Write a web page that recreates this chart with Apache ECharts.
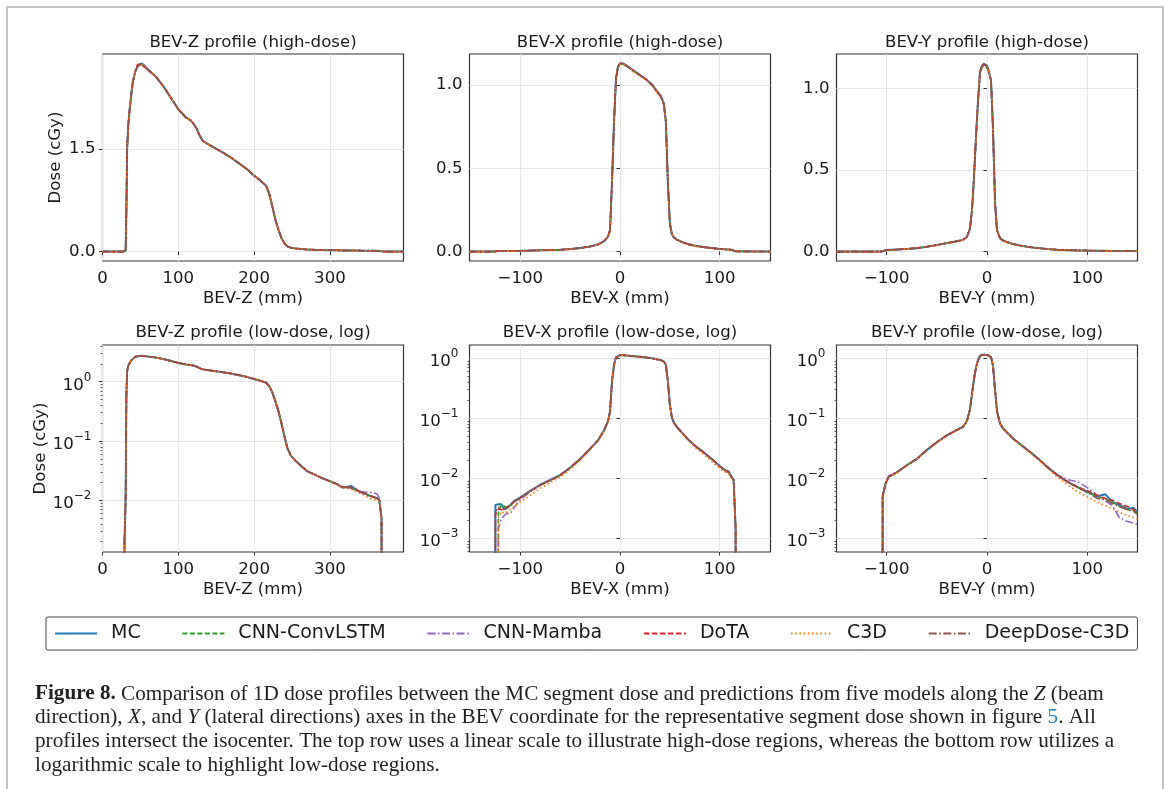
<!DOCTYPE html>
<html><head><meta charset="utf-8">
<script src="https://cdn.jsdelivr.net/npm/echarts@6/dist/echarts.min.js"></script>
<style>html,body{margin:0;padding:0;background:#fff}#c{width:1167px;height:789px}</style>
</head><body><div id="c"></div>
<script>
// ---------------- DATA ----------------
const seriesNames = ['MC', 'CNN-ConvLSTM', 'CNN-Mamba', 'DoTA', 'C3D', 'DeepDose-C3D'];

// BEV-Z profile (beam direction), mm
const zPos = [0, 27, 29, 30.5, 31.5, 32.5, 34, 36, 38, 40, 43, 46, 49, 52, 55, 60, 70, 80, 90, 100, 110, 116, 120, 124, 128, 132, 136, 144, 152, 160, 170, 180, 190, 200, 206, 212, 216, 220, 224, 228, 232, 236, 240, 244, 248, 254, 262, 270, 280, 290, 300, 310, 316, 322, 328, 334, 340, 346, 352, 358, 362, 365, 368, 371, 397];
const zMC =        [0, 0, 0.002, 0.01, 0.6, 1.5, 1.85, 2.1, 2.3, 2.48, 2.62, 2.7, 2.73, 2.75, 2.72, 2.66, 2.56, 2.42, 2.25, 2.08, 1.96, 1.92, 1.87, 1.80, 1.70, 1.62, 1.59, 1.54, 1.49, 1.44, 1.37, 1.29, 1.21, 1.11, 1.06, 1.00, 0.96, 0.84, 0.66, 0.47, 0.32, 0.20, 0.12, 0.075, 0.058, 0.047, 0.038, 0.031, 0.027, 0.0235, 0.021, 0.0185, 0.0165, 0.0168, 0.0175, 0.0152, 0.0138, 0.013, 0.012, 0.0113, 0.0108, 0.0102, 0.005, 0, 0];
const zConvLSTM =  [0, 0, 0.002, 0.01, 0.6, 1.5, 1.85, 2.1, 2.3, 2.48, 2.62, 2.71, 2.74, 2.73, 2.71, 2.66, 2.56, 2.42, 2.25, 2.08, 1.96, 1.92, 1.87, 1.80, 1.70, 1.62, 1.59, 1.54, 1.49, 1.44, 1.37, 1.29, 1.21, 1.11, 1.06, 1.00, 0.96, 0.84, 0.66, 0.47, 0.32, 0.20, 0.12, 0.075, 0.058, 0.047, 0.038, 0.031, 0.027, 0.0235, 0.021, 0.0185, 0.0165, 0.0165, 0.016, 0.015, 0.0138, 0.013, 0.012, 0.0113, 0.0108, 0.0102, 0.005, 0, 0];
const zMamba =     [0, 0, 0.002, 0.01, 0.6, 1.5, 1.85, 2.1, 2.3, 2.48, 2.62, 2.7, 2.73, 2.74, 2.72, 2.66, 2.56, 2.42, 2.25, 2.08, 1.96, 1.92, 1.87, 1.80, 1.70, 1.62, 1.59, 1.54, 1.49, 1.44, 1.37, 1.29, 1.21, 1.11, 1.06, 1.00, 0.96, 0.84, 0.66, 0.47, 0.32, 0.20, 0.12, 0.075, 0.058, 0.047, 0.038, 0.031, 0.027, 0.0235, 0.021, 0.0185, 0.0168, 0.0165, 0.0165, 0.0155, 0.0142, 0.0138, 0.0135, 0.0133, 0.0128, 0.011, 0.005, 0, 0];
const zDoTA =      [0, 0, 0.002, 0.01, 0.6, 1.5, 1.85, 2.1, 2.3, 2.48, 2.63, 2.73, 2.74, 2.72, 2.70, 2.65, 2.56, 2.42, 2.25, 2.08, 1.96, 1.92, 1.87, 1.80, 1.70, 1.62, 1.59, 1.54, 1.49, 1.44, 1.37, 1.29, 1.21, 1.11, 1.06, 1.00, 0.96, 0.84, 0.66, 0.47, 0.32, 0.20, 0.12, 0.075, 0.058, 0.047, 0.038, 0.031, 0.027, 0.0235, 0.021, 0.0185, 0.0168, 0.0166, 0.0165, 0.0155, 0.0136, 0.013, 0.012, 0.0113, 0.0108, 0.0102, 0.005, 0, 0];
const zC3D =       [0, 0, 0.002, 0.01, 0.6, 1.5, 1.85, 2.1, 2.3, 2.48, 2.62, 2.7, 2.73, 2.74, 2.72, 2.66, 2.56, 2.42, 2.25, 2.08, 1.96, 1.92, 1.87, 1.80, 1.70, 1.62, 1.59, 1.54, 1.49, 1.44, 1.37, 1.29, 1.21, 1.11, 1.06, 1.00, 0.96, 0.84, 0.66, 0.47, 0.32, 0.20, 0.12, 0.075, 0.058, 0.047, 0.038, 0.031, 0.027, 0.0235, 0.021, 0.018, 0.016, 0.0158, 0.0152, 0.0142, 0.013, 0.012, 0.0108, 0.0103, 0.0100, 0.0097, 0.005, 0, 0];
const zDeepDose =  [0, 0, 0.002, 0.01, 0.6, 1.5, 1.85, 2.1, 2.3, 2.48, 2.62, 2.7, 2.73, 2.74, 2.72, 2.66, 2.56, 2.42, 2.25, 2.08, 1.96, 1.92, 1.87, 1.80, 1.70, 1.62, 1.59, 1.54, 1.49, 1.44, 1.37, 1.29, 1.21, 1.11, 1.06, 1.00, 0.96, 0.84, 0.66, 0.47, 0.32, 0.20, 0.12, 0.075, 0.058, 0.047, 0.038, 0.031, 0.027, 0.0235, 0.021, 0.0185, 0.0166, 0.0166, 0.0162, 0.015, 0.0138, 0.013, 0.012, 0.0113, 0.0108, 0.0102, 0.005, 0, 0];

// BEV-X profile (lateral), mm
const xPos = [-151, -127, -125, -122, -119, -116, -113, -110, -106, -100, -90, -80, -70, -60, -50, -40, -30, -22, -16, -12, -10, -8, -6, -4, -2, 0, 3, 8, 14, 20, 26, 32, 37, 41, 44, 46, 48, 50, 52, 54, 57, 62, 68, 76, 84, 92, 100, 106, 109, 112, 114, 116, 118, 151];
const xMC =        [0, 0, 0.0036, 0.0037, 0.0037, 0.0031, 0.0032, 0.0036, 0.0042, 0.0048, 0.0062, 0.0078, 0.0094, 0.0113, 0.015, 0.021, 0.031, 0.043, 0.063, 0.09, 0.13, 0.42, 0.78, 1.04, 1.11, 1.13, 1.13, 1.11, 1.085, 1.06, 1.035, 1.005, 0.965, 0.935, 0.89, 0.78, 0.42, 0.17, 0.105, 0.085, 0.072, 0.058, 0.045, 0.034, 0.027, 0.021, 0.016, 0.0135, 0.013, 0.0105, 0.0095, 0.0015, 0, 0];
const xConvLSTM =  [0, 0, 0, 0.0026, 0.0037, 0.0034, 0.0033, 0.0035, 0.0041, 0.0047, 0.0062, 0.0077, 0.0093, 0.0112, 0.015, 0.021, 0.031, 0.043, 0.063, 0.09, 0.13, 0.42, 0.78, 1.04, 1.11, 1.125, 1.125, 1.11, 1.08, 1.06, 1.035, 1.0, 0.965, 0.93, 0.89, 0.78, 0.42, 0.17, 0.105, 0.085, 0.072, 0.058, 0.045, 0.034, 0.027, 0.021, 0.0158, 0.0133, 0.0125, 0.0103, 0.0093, 0.0015, 0, 0];
const xMamba =     [0, 0, 0, 0.0015, 0.0021, 0.0024, 0.0026, 0.0026, 0.0033, 0.0044, 0.006, 0.0077, 0.0094, 0.0113, 0.015, 0.0205, 0.031, 0.043, 0.063, 0.09, 0.13, 0.42, 0.78, 1.04, 1.11, 1.13, 1.13, 1.11, 1.085, 1.06, 1.035, 1.005, 0.965, 0.935, 0.89, 0.78, 0.42, 0.17, 0.105, 0.085, 0.072, 0.058, 0.045, 0.034, 0.027, 0.021, 0.016, 0.0133, 0.0125, 0.0104, 0.0094, 0.0015, 0, 0];
const xDoTA =      [0, 0, 0.0025, 0.0031, 0.0030, 0.0031, 0.0033, 0.0036, 0.0041, 0.0047, 0.0061, 0.0077, 0.0093, 0.0112, 0.015, 0.021, 0.031, 0.043, 0.063, 0.09, 0.13, 0.42, 0.78, 1.04, 1.11, 1.13, 1.13, 1.11, 1.085, 1.06, 1.035, 1.0, 0.96, 0.93, 0.88, 0.78, 0.42, 0.17, 0.105, 0.085, 0.072, 0.058, 0.045, 0.034, 0.027, 0.021, 0.016, 0.0133, 0.0127, 0.0104, 0.0094, 0.0015, 0, 0];
const xC3D =       [0, 0, 0, 0.0022, 0.0028, 0.0026, 0.0028, 0.0030, 0.0034, 0.0040, 0.0052, 0.0068, 0.0085, 0.0105, 0.014, 0.020, 0.030, 0.042, 0.062, 0.09, 0.13, 0.42, 0.78, 1.04, 1.11, 1.125, 1.125, 1.11, 1.08, 1.055, 1.03, 1.0, 0.96, 0.93, 0.88, 0.78, 0.42, 0.17, 0.105, 0.085, 0.071, 0.057, 0.044, 0.032, 0.025, 0.019, 0.0145, 0.0125, 0.012, 0.0098, 0.0088, 0.0015, 0, 0];
const xDeepDose =  [0, 0, 0.0028, 0.0033, 0.0032, 0.0030, 0.0032, 0.0035, 0.0041, 0.0047, 0.0061, 0.0077, 0.0093, 0.0112, 0.015, 0.021, 0.031, 0.043, 0.063, 0.09, 0.13, 0.42, 0.78, 1.04, 1.11, 1.13, 1.13, 1.11, 1.085, 1.06, 1.035, 1.0, 0.96, 0.93, 0.88, 0.78, 0.42, 0.17, 0.105, 0.085, 0.072, 0.058, 0.045, 0.034, 0.027, 0.021, 0.016, 0.0133, 0.0126, 0.0104, 0.0094, 0.0015, 0, 0];

// BEV-Y profile (lateral), mm
const yPos = [-150, -105, -104, -101, -98, -95, -90, -80, -70, -60, -50, -40, -30, -24, -20, -17, -15, -13, -11, -9, -7, -5, -3, 0, 2, 4, 6, 8, 10, 13, 16, 20, 26, 33, 40, 50, 60, 70, 80, 90, 100, 110, 118, 125, 132, 140, 146, 150];
const yMC =        [0, 0, 0.005, 0.0083, 0.0105, 0.0114, 0.0125, 0.0165, 0.021, 0.0295, 0.040, 0.052, 0.064, 0.072, 0.09, 0.14, 0.25, 0.45, 0.70, 0.92, 1.10, 1.14, 1.155, 1.14, 1.10, 1.05, 0.75, 0.30, 0.13, 0.082, 0.068, 0.058, 0.046, 0.037, 0.030, 0.022, 0.0155, 0.0113, 0.0088, 0.0072, 0.0060, 0.0050, 0.0054, 0.0040, 0.0036, 0.0031, 0.0032, 0.0027];
const yConvLSTM =  [0, 0, 0.005, 0.0083, 0.0105, 0.0114, 0.0125, 0.0165, 0.021, 0.0295, 0.040, 0.052, 0.064, 0.072, 0.09, 0.14, 0.25, 0.45, 0.70, 0.92, 1.09, 1.13, 1.14, 1.13, 1.10, 1.05, 0.75, 0.30, 0.13, 0.082, 0.068, 0.058, 0.046, 0.037, 0.030, 0.022, 0.0155, 0.0113, 0.0088, 0.0071, 0.0058, 0.0049, 0.0046, 0.0040, 0.0034, 0.0030, 0.0029, 0.0026];
const yMamba =     [0, 0, 0.005, 0.0085, 0.0110, 0.0116, 0.0125, 0.0165, 0.021, 0.0295, 0.040, 0.052, 0.064, 0.072, 0.09, 0.14, 0.25, 0.45, 0.70, 0.92, 1.10, 1.14, 1.15, 1.14, 1.10, 1.05, 0.75, 0.30, 0.13, 0.082, 0.068, 0.058, 0.046, 0.037, 0.030, 0.022, 0.0157, 0.0115, 0.0095, 0.0088, 0.0070, 0.0052, 0.0042, 0.0035, 0.0022, 0.0019, 0.0018, 0.0017];
const yDoTA =      [0, 0, 0.005, 0.0082, 0.0104, 0.0113, 0.0124, 0.0164, 0.021, 0.0295, 0.040, 0.052, 0.064, 0.072, 0.09, 0.14, 0.25, 0.45, 0.70, 0.92, 1.10, 1.14, 1.145, 1.14, 1.10, 1.05, 0.75, 0.30, 0.13, 0.082, 0.068, 0.058, 0.046, 0.037, 0.030, 0.022, 0.0155, 0.0113, 0.0088, 0.0072, 0.0062, 0.0052, 0.0046, 0.0043, 0.0038, 0.0034, 0.0030, 0.0028];
const yC3D =       [0, 0, 0.005, 0.0082, 0.0104, 0.0113, 0.0124, 0.0163, 0.0208, 0.029, 0.0395, 0.051, 0.063, 0.071, 0.09, 0.14, 0.25, 0.45, 0.70, 0.92, 1.10, 1.14, 1.15, 1.14, 1.10, 1.05, 0.75, 0.30, 0.13, 0.081, 0.067, 0.057, 0.045, 0.036, 0.029, 0.021, 0.0148, 0.0105, 0.0078, 0.0060, 0.0049, 0.0040, 0.0035, 0.0031, 0.0027, 0.0024, 0.0022, 0.0021];
const yDeepDose =  [0, 0, 0.005, 0.0083, 0.0105, 0.0114, 0.0125, 0.0165, 0.021, 0.0295, 0.040, 0.052, 0.064, 0.072, 0.09, 0.14, 0.25, 0.45, 0.70, 0.92, 1.10, 1.14, 1.15, 1.14, 1.10, 1.05, 0.75, 0.30, 0.13, 0.082, 0.068, 0.058, 0.046, 0.037, 0.030, 0.022, 0.0155, 0.0113, 0.0088, 0.0070, 0.0058, 0.0046, 0.0044, 0.0038, 0.0034, 0.0030, 0.0028, 0.0025];

// tick labels
const xTicksZ = [0, 100, 200, 300];
const xTicksLat = [-100, 0, 100];
const yTicksZHigh = [0, 1.5];
const yTicksHigh = [0, 0.5, 1.0];
const yTicksLog = [0.001, 0.01, 0.1, 1];
const yMinorLog = [0.0006, 0.0007, 0.0008, 0.0009, 0.002, 0.003, 0.004, 0.005, 0.006, 0.007, 0.008, 0.009,
  0.02, 0.03, 0.04, 0.05, 0.06, 0.07, 0.08, 0.09, 0.2, 0.3, 0.4, 0.5, 0.6, 0.7, 0.8, 0.9, 2, 3, 4];

const titles = ['BEV-Z profile (high-dose)', 'BEV-X profile (high-dose)', 'BEV-Y profile (high-dose)',
  'BEV-Z profile (low-dose, log)', 'BEV-X profile (low-dose, log)', 'BEV-Y profile (low-dose, log)'];
const xNames = ['BEV-Z (mm)', 'BEV-X (mm)', 'BEV-Y (mm)'];

// ---------------- BUILD ----------------
const zSet = [zMC, zConvLSTM, zMamba, zDoTA, zC3D, zDeepDose];
const xSet = [xMC, xConvLSTM, xMamba, xDoTA, xC3D, xDeepDose];
const ySet = [yMC, yConvLSTM, yMamba, yDoTA, yC3D, yDeepDose];

const FONT = 'DejaVu Sans';
const FS = 16.6;
const TXT = '#1a1a1a';
const styles = [
  { color: '#1f77b4', type: 'solid', width: 2 },
  { color: '#2ca02c', type: [5, 2.5], width: 1.6 },
  { color: '#9467bd', type: [8, 2.5, 1.6, 2.5], width: 1.6 },
  { color: '#d62728', type: [5.5, 2.5], width: 1.6 },
  { color: '#ff7f0e', type: [1.6, 2.6], width: 1.6 },
  { color: '#8c564b', type: [8, 2.5, 1.6, 2.5], width: 1.6 }
];

const colLeft = [102.5, 469.5, 836.5];
const gridW = 301;
const rowTop = [54, 345];
const gridH = 207;

const panels = [
  { pos: zPos, set: zSet, log: false, xr: [0, 397], xt: xTicksZ, yr: [-0.1375, 2.8875], yt: yTicksZHigh },
  { pos: xPos, set: xSet, log: false, xr: [-151, 151], xt: xTicksLat, yr: [-0.0565, 1.1865], yt: yTicksHigh },
  { pos: yPos, set: ySet, log: false, xr: [-150, 150], xt: xTicksLat, yr: [-0.0578, 1.2128], yt: yTicksHigh },
  { pos: zPos, set: zSet, log: true, xr: [0, 397], xt: xTicksZ, yr: [0.00134, 4.17], yt: yTicksLog },
  { pos: xPos, set: xSet, log: true, xr: [-151, 151], xt: xTicksLat, yr: [0.00059, 1.67], yt: yTicksLog },
  { pos: yPos, set: ySet, log: true, xr: [-150, 150], xt: xTicksLat, yr: [0.00059, 1.67], yt: yTicksLog }
];

function logLabel(v) {
  const e = Math.round(Math.log10(v));
  return '{b|10}{s|' + (e < 0 ? '\u2212' + (-e) : String(e)) + '}';
}
const logRich = {
  b: { fontFamily: FONT, fontSize: FS, color: TXT, verticalAlign: 'bottom', lineHeight: 24 },
  s: { fontFamily: FONT, fontSize: 12, color: TXT, verticalAlign: 'top', lineHeight: 12, padding: [2, 0, 0, 0] }
};
function xLabel(v) { return v < 0 ? '\u2212' + (-v) : String(v); }

const grid = [], xAxis = [], yAxis = [], series = [], graphic = [];
panels.forEach((p, i) => {
  const col = i % 3, row = Math.floor(i / 3);
  grid.push({ left: colLeft[col], top: rowTop[row], width: gridW, height: gridH, show: true,
    borderColor: '#333', borderWidth: 1.2, backgroundColor: 'transparent', containLabel: false });
  xAxis.push({
    type: 'value', gridIndex: i, min: p.xr[0], max: p.xr[1],
    name: xNames[col], nameLocation: 'middle', nameGap: 29,
    nameTextStyle: { fontFamily: FONT, fontSize: FS, color: TXT },
    axisLine: { show: false },
    axisTick: { show: true, length: 3.5, inside: false, customValues: p.xt, lineStyle: { color: '#333', width: 1 } },
    axisLabel: { show: true, customValues: p.xt, formatter: xLabel, margin: 9, fontFamily: FONT, fontSize: FS, color: TXT },
    splitLine: { show: true, lineStyle: { color: '#e6e6e6', width: 1 } }
  });
  const ya = {
    type: p.log ? 'log' : 'value', gridIndex: i, min: p.yr[0], max: p.yr[1],
    axisLine: { show: false },
    axisTick: { show: true, length: 3.5, inside: false, customValues: p.yt, lineStyle: { color: '#333', width: 1 } },
    axisLabel: { show: true, customValues: p.yt, margin: p.log ? 11 : 7, fontFamily: FONT, fontSize: FS, color: TXT,
      formatter: p.log ? logLabel : (v => v.toFixed(1)), rich: p.log ? logRich : undefined },
    splitLine: { show: true, lineStyle: { color: '#e6e6e6', width: 1 } }
  };
  if (p.log) ya.logBase = 10;
  if (col === 0) {
    ya.name = 'Dose (cGy)'; ya.nameLocation = 'middle'; ya.nameGap = p.log ? 52 : 38;
    ya.nameTextStyle = { fontFamily: FONT, fontSize: FS, color: TXT };
  }
  yAxis.push(ya);
  graphic.push({ type: 'text', x: colLeft[col] + gridW / 2, y: row === 0 ? 43 : 333,
    style: { text: titles[i], fontFamily: FONT, fontSize: FS, fill: TXT, align: 'center', verticalAlign: 'middle' } });
});
// minor ticks for log panels
panels.forEach((p, i) => {
  if (!p.log) return;
  yAxis.push({
    type: 'log', logBase: 10, gridIndex: i, min: p.yr[0], max: p.yr[1], position: 'left',
    axisLine: { show: false }, axisLabel: { show: false }, splitLine: { show: false },
    axisTick: { show: true, length: 2, customValues: yMinorLog.filter(v => v > p.yr[0] && v < p.yr[1]),
      lineStyle: { color: '#333', width: 0.8 } }
  });
});
panels.forEach((p, i) => {
  p.set.forEach((vals, j) => {
    series.push({
      type: 'line', name: seriesNames[j], xAxisIndex: i, yAxisIndex: i,
      data: p.pos.map((x, k) => [x, p.log ? (vals[k] > 0 ? vals[k] : 1e-30) : vals[k]]),
      symbol: 'none', showSymbol: false, smooth: false, clip: true, silent: true,
      lineStyle: { color: styles[j].color, type: styles[j].type, width: styles[j].width },
      itemStyle: { color: styles[j].color },
      emphasis: { disabled: true }, z: 2 + j
    });
  });
});

// frame
graphic.push({ type: 'rect', shape: { x: 7, y: 7, width: 1156, height: 820 },
  style: { fill: 'none', stroke: '#c4c4c4', lineWidth: 2 }, silent: true, z: -1 });

// caption
const CFS = 21.2;
const capRich = {
  b: { fontFamily: 'Liberation Serif', fontWeight: 'bold', fontSize: CFS, fill: '#231f20' },
  i: { fontFamily: 'Liberation Serif', fontStyle: 'italic', fontSize: CFS, fill: '#231f20' },
  l: { fontFamily: 'Liberation Serif', fontSize: CFS, fill: '#1f7fc4' },
  n: { fontFamily: 'Liberation Serif', fontSize: CFS, fill: '#231f20' }
};
const capLines = [
  '{b|Figure 8.}{n| Comparison of 1D dose profiles between the MC segment dose and predictions from five models along the }{i|Z}{n| (beam}',
  '{n|direction), }{i|X}{n|, and }{i|Y}{n| (lateral directions) axes in the BEV coordinate for the representative segment dose shown in figure }{l|5}{n|. All}',
  '{n|profiles intersect the isocenter. The top row uses a linear scale to illustrate high-dose regions, whereas the bottom row utilizes a}',
  '{n|logarithmic scale to highlight low-dose regions.}'
];
capLines.forEach((t, k) => {
  graphic.push({ type: 'text', x: 35, y: 694 + k * 23.7,
    style: { text: t, rich: capRich, fontFamily: 'Liberation Serif', fontSize: CFS, fill: '#231f20', verticalAlign: 'middle', align: 'left' } });
});

const chart = echarts.init(document.getElementById('c'), null, { renderer: 'canvas' });
chart.setOption({
  animation: false,
  backgroundColor: '#fff',
  grid, xAxis, yAxis, series, graphic,
  legend: {
    data: seriesNames, left: 46, top: 617, orient: 'horizontal',
    itemWidth: 42, itemHeight: 20, itemGap: 40.7, padding: [7, 8],
    borderColor: '#444', borderWidth: 1, borderRadius: 2,
    itemStyle: { opacity: 0 },
    textStyle: { fontFamily: FONT, fontSize: 19, color: TXT, padding: [0, 0, 0, 9] },
    selectedMode: false
  }
});
</script></body></html>
